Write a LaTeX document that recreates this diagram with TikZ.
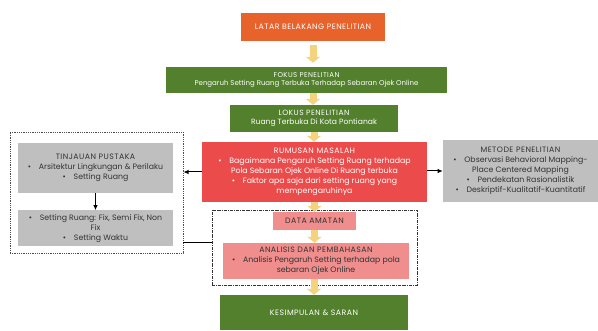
\documentclass[tikz,border=0pt]{standalone}
\usepackage{fontspec}
\setmainfont{Poppins}
\usepackage{xcolor}
\usepackage{tikz}
\usetikzlibrary{arrows.meta,positioning}

\definecolor{latarorange}{HTML}{E8632B}
\definecolor{fokusgreen}{HTML}{52802C}
\definecolor{rumusanred}{HTML}{EC4B4B}
\definecolor{datapink}{HTML}{F08D8D}
\definecolor{kajiangray}{HTML}{BFBFBF}
\definecolor{arrowgold}{HTML}{F4D37E}

\newcommand\judul[1]{{\addfontfeature{LetterSpace=6}#1}}

\begin{document}
\begin{tikzpicture}[
    x=1pt, y=-1pt,
    font=\fontsize{7.8}{10}\selectfont,
    basebox/.style={align=center, inner sep=1pt},
    orangebox/.style={basebox, fill=latarorange, text=white},
    greenbox/.style={basebox, fill=fokusgreen, text=white},
    redbox/.style={basebox, fill=rumusanred, text=white},
    pinkbox/.style={basebox, fill=datapink, text=black!80},
    graybox/.style={basebox, fill=kajiangray, text=black!80},
    dotframe/.style={draw=black!70, densely dotted, line width=0.8pt},
    dashdotframe/.style={draw=black!80, line width=0.7pt, dash pattern=on 3pt off 1pt on 0.8pt off 1pt},
    blockarrow/.style={-{Triangle[width=14pt,length=6pt]}, line width=7pt, draw=arrowgold},
    arrow/.style={-{Latex[length=1.8mm,width=1.6mm]}, line width=1pt}
]
\useasboundingbox (0,0) rectangle (598,331);

% Frames
\node[dotframe, minimum width=173pt, minimum height=121pt] (kajian) at (96.5,192.5) {};
\node[dashdotframe, minimum width=205pt, minimum height=75pt] (analisa) at (314.5,247.5) {};

% Main column
\node[orangebox, minimum width=144pt, minimum height=28pt] (latar) at (313,27) {\judul{LATAR BELAKANG PENELITIAN}};
\node[greenbox, minimum width=281pt, minimum height=26pt, font=\fontsize{7}{8.6}\selectfont] (fokus) at (306.5,80) {\judul{FOKUS PENELITIAN}\\Pengaruh Setting Ruang Terbuka Terhadap Sebaran Ojek Online};
\node[greenbox, minimum width=168pt, minimum height=27pt, font=\fontsize{7.6}{9}\selectfont] (lokus) at (314,118.5) {\judul{LOKUS PENELITIAN}\\Ruang Terbuka Di Kota Pontianak};
\node[redbox, minimum width=225pt, minimum height=60pt] (rumusan) at (314.5,172) {\judul{RUMUSAN MASALAH}\\\textbullet\quad Bagaimana Pengaruh Setting Ruang terhadap\\Pola Sebaran Ojek Online Di Ruang terbuka\\\textbullet\quad Faktor apa saja dari setting ruang yang\\mempengaruhinya};

% Kajian
\node[graybox, minimum width=155pt, minimum height=50pt] (tinjauan) at (95.5,168) {\judul{TINJAUAN PUSTAKA}\\\textbullet\quad Arsitektur Lingkungan \& Perilaku\\\textbullet\quad Setting Ruang};
\node[graybox, minimum width=155pt, minimum height=36pt, below=17pt of tinjauan] (setting) {\textbullet\quad Setting Ruang: Fix, Semi Fix, Non\\Fix\\\textbullet\quad Setting Waktu};

% Metode
\node[graybox, minimum width=155pt, minimum height=62pt] (metode) at (520.5,171) {\judul{METODE PENELITIAN}\\\textbullet\quad Observasi Behavioral Mapping-\\Place Centered Mapping\\\textbullet\quad Pendekatan Rasionalistik\\\textbullet\quad Deskriptif-Kualitatif-Kuantitatif};

% Data dan analisis
\node[pinkbox, minimum width=83pt, minimum height=18pt] (data) at (314.5,221) {\judul{DATA AMATAN}};
\node[pinkbox, minimum width=186pt, minimum height=36pt] (analisis) at (316,261) {\judul{ANALISIS DAN PEMBAHASAN}\\\textbullet\quad Analisis Pengaruh Setting terhadap pola\\sebaran Ojek Online};
\node[greenbox, minimum width=188pt, minimum height=35pt] (kesimpulan) at (314,312.5) {\judul{KESIMPULAN \& SARAN}};

% Arrows
\draw[blockarrow, shorten <=4pt, shorten >=4pt] (latar.south) -- (latar.south |- fokus.north);
\draw[blockarrow] (latar.south |- fokus.south) -- (latar.south |- lokus.north);
\draw[blockarrow] (lokus.south) -- (lokus.south |- rumusan.north);
\draw[blockarrow] (rumusan.south) -- (rumusan.south |- data.north);
\draw[blockarrow] (data.south) -- (data.south |- analisis.north);
\draw[blockarrow] (kesimpulan.north |- analisis.south) -- (kesimpulan.north);

\draw[arrow] (rumusan.west) -- (kajian.east |- rumusan.west);
\draw[arrow] (tinjauan) -- (setting);
\draw[arrow] (rumusan.east |- metode.west) -- (metode.west);
\draw[line width=1.2pt] (kajian.east |- analisis.north) -- (analisa.west |- analisis.north);
\end{tikzpicture}
\end{document}
